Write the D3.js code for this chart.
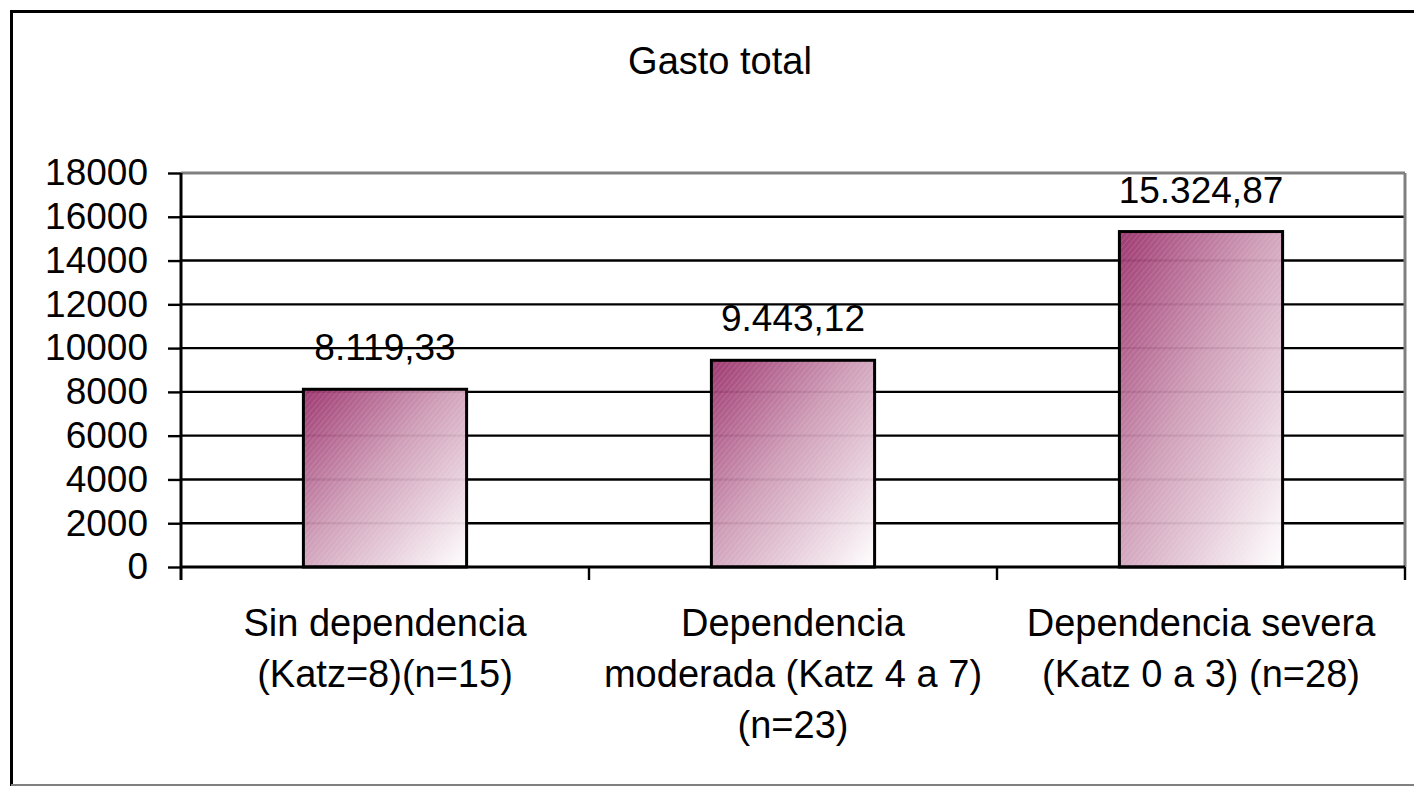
<!DOCTYPE html>
<html>
<head>
<meta charset="utf-8">
<script src="https://cdn.jsdelivr.net/npm/d3@7"></script>
<style>
  html, body { margin: 0; padding: 0; background: #fff; }
  svg { display: block; font-family: "Liberation Sans", Arial, sans-serif; }
</style>
</head>
<body>
<svg id="chart" width="1414" height="786"></svg>
<script>
// data
var chartTitle = "Gasto total";
var categories = ["sin", "moderada", "severa"];
var categoryLines = [
    ["Sin dependencia", "(Katz=8)(n=15)"],
    ["Dependencia", "moderada (Katz 4 a 7)", "(n=23)"],
    ["Dependencia severa", "(Katz 0 a 3) (n=28)"]
];
var gastoTotal = [8119.33, 9443.12, 15324.87];
var yTicks = [0, 2000, 4000, 6000, 8000, 10000, 12000, 14000, 16000, 18000];

var svg = d3.select("#chart"),
    margin = { top: 173, right: 9, bottom: 219, left: 181 },
    width = +svg.attr("width") - margin.left - margin.right,
    height = +svg.attr("height") - margin.top - margin.bottom;

var fontSize = 37;

var esFormat = d3.formatLocale({ decimal: ",", thousands: ".", grouping: [3], currency: ["", ""] }).format(",.2f");

var x = d3.scaleBand().domain(categories).range([0, width]).padding(0),
    y = d3.scaleLinear().domain([0, 18000]).range([height, 0]);

// gradient + hatch
var defs = svg.append("defs");
var grad = defs.append("linearGradient")
    .attr("id", "barGrad")
    .attr("x1", 0).attr("y1", 0).attr("x2", 1).attr("y2", 1);
grad.append("stop").attr("offset", "0%").attr("stop-color", "#9a2f6a");
grad.append("stop").attr("offset", "45%").attr("stop-color", "#cd9ab5");
grad.append("stop").attr("offset", "100%").attr("stop-color", "#ffffff");

var hatch = defs.append("pattern")
    .attr("id", "hatch")
    .attr("patternUnits", "userSpaceOnUse")
    .attr("width", 4).attr("height", 4)
    .attr("patternTransform", "rotate(40)");
hatch.append("rect")
    .attr("width", 1).attr("height", 4)
    .attr("fill", "#ffffff").attr("opacity", 0.12);

// outer chart border
svg.append("line").attr("x1", 11).attr("y1", 11.5).attr("x2", 1414).attr("y2", 11.5)
    .attr("stroke", "#000").attr("stroke-width", 3);
svg.append("line").attr("x1", 11.5).attr("y1", 10).attr("x2", 11.5).attr("y2", 786)
    .attr("stroke", "#000").attr("stroke-width", 3);
svg.append("line").attr("x1", 11).attr("y1", 785).attr("x2", 1414).attr("y2", 785)
    .attr("stroke", "#808080").attr("stroke-width", 2);

svg.append("text")
    .attr("x", 720)
    .attr("y", 74)
    .attr("text-anchor", "middle")
    .attr("font-size", 38)
    .text(chartTitle);

var g = svg.append("g")
    .attr("transform", "translate(" + margin.left + "," + margin.top + ")");

// gridlines
g.selectAll(".grid")
    .data(yTicks.filter(function(d) { return d > 0 && d < 18000; }))
    .enter().append("line")
    .attr("class", "grid")
    .attr("x1", 0).attr("x2", width)
    .attr("y1", function(d) { return y(d); })
    .attr("y2", function(d) { return y(d); })
    .attr("stroke", "#000").attr("stroke-width", 2.4);

// plot area border (top + right)
g.append("line").attr("x1", 0).attr("x2", width).attr("y1", 0).attr("y2", 0)
    .attr("stroke", "#808080").attr("stroke-width", 3);
g.append("line").attr("x1", width).attr("x2", width).attr("y1", 0).attr("y2", height)
    .attr("stroke", "#808080").attr("stroke-width", 3);

// bars
var barW = x.bandwidth() * 0.4;
var bars = g.selectAll(".bar")
    .data(gastoTotal)
    .enter().append("g")
    .attr("class", "bar");

bars.append("rect")
    .attr("x", function(d, i) { return x(categories[i]) + (x.bandwidth() - barW) / 2; })
    .attr("y", function(d) { return y(d); })
    .attr("width", barW)
    .attr("height", function(d) { return height - y(d); })
    .attr("fill", "url(#barGrad)")
    .attr("fill-opacity", 0.95);

bars.append("rect")
    .attr("x", function(d, i) { return x(categories[i]) + (x.bandwidth() - barW) / 2; })
    .attr("y", function(d) { return y(d); })
    .attr("width", barW)
    .attr("height", function(d) { return height - y(d); })
    .attr("fill", "url(#hatch)")
    .attr("stroke", "#000")
    .attr("stroke-width", 3);

// value labels
g.selectAll(".val")
    .data(gastoTotal)
    .enter().append("text")
    .attr("class", "val")
    .attr("x", function(d, i) { return x(categories[i]) + x.bandwidth() / 2; })
    .attr("y", function(d) { return y(d) - 29; })
    .attr("text-anchor", "middle")
    .attr("font-size", fontSize)
    .text(function(d) { return esFormat(d); });

// y axis
var yAxis = g.append("g")
    .call(d3.axisLeft(y).tickValues(yTicks).tickSize(13).tickPadding(20).tickFormat(d3.format("d")));
yAxis.select(".domain").remove();
yAxis.selectAll(".tick line").attr("stroke", "#000").attr("stroke-width", 2.4);
yAxis.selectAll(".tick text")
    .attr("font-size", fontSize)
    .attr("font-family", "Liberation Sans, Arial, sans-serif")
    .attr("fill", "#000");
g.append("line").attr("x1", 0).attr("x2", 0).attr("y1", 0).attr("y2", height + 13)
    .attr("stroke", "#000").attr("stroke-width", 3);

// x axis
g.append("line").attr("x1", 0).attr("x2", width).attr("y1", height).attr("y2", height)
    .attr("stroke", "#000").attr("stroke-width", 3);
var bounds = categories.map(function(c) { return x(c); }).concat([width]);
g.selectAll(".xtick")
    .data(bounds.slice(1))
    .enter().append("line")
    .attr("class", "xtick")
    .attr("x1", function(d) { return d; }).attr("x2", function(d) { return d; })
    .attr("y1", height).attr("y2", height + 13)
    .attr("stroke", "#000").attr("stroke-width", 2.4);

// category labels
var catText = g.selectAll(".cat")
    .data(categoryLines)
    .enter().append("text")
    .attr("class", "cat")
    .attr("text-anchor", "middle")
    .attr("font-size", 38)
    .attr("transform", function(d, i) {
        return "translate(" + (x(categories[i]) + x.bandwidth() / 2) + "," + (height + 69) + ")";
    });
catText.selectAll("tspan")
    .data(function(d) { return d; })
    .enter().append("tspan")
    .attr("x", 0)
    .attr("y", function(d, j) { return j * 51; })
    .text(function(d) { return d; });
</script>
</body>
</html>
